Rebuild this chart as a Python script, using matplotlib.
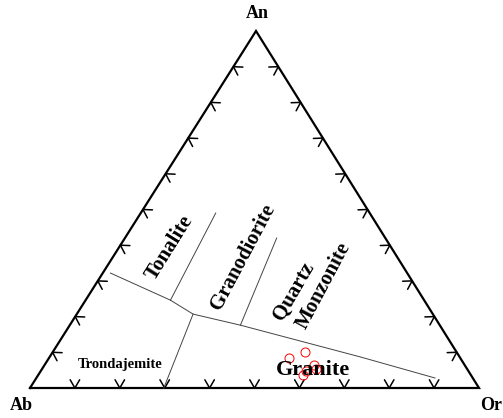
import numpy as np
import matplotlib
matplotlib.use('Agg')
import matplotlib.pyplot as plt


#==================================================
# data, in percent (An, Or); Ab = 100 - An - Or

# main boundary Tonalite/Granodiorite/QM  vs  Trondjemite/Granite
bound_an = [32.2, 24.6, 20.7, 17.6, 8.7, 2.8]
bound_or = [1.7, 18.9, 25.9, 38.0, 69.2, 88.8]

# Trondjemite / Granite divide
trond_an = [20.7, 0.0]
trond_or = [25.9, 29.8]

# Tonalite / Granodiorite divide
ton_an = [24.6, 49.0]
ton_or = [18.9, 16.7]

# Granodiorite / Quartz Monzonite divide
grd_an = [17.6, 42.0]
grd_or = [38.0, 33.8]

# samples
samp_an = [8.4, 10.1, 6.4, 3.6, 4.8, 5.3]
samp_or = [53.5, 56.2, 60.1, 59.0, 59.1, 61.0]

tick_fracs = [0.1, 0.2, 0.3, 0.4, 0.5, 0.6, 0.7, 0.8, 0.9]

#==================================================

# triangle corners in pixels (y down)
AB = np.array([30.0, 388.0])
OR = np.array([479.0, 388.0])
AN = np.array([256.0, 31.0])
CENTRE = (AB + OR + AN) / 3.


def tern(an, orr):

	"""
	Convert An, Or percentages to x, y on the figure.
	"""

	an = np.asarray(an, dtype=float) / 100.
	orr = np.asarray(orr, dtype=float) / 100.
	ab = 1. - an - orr
	x = ab * AB[0] + orr * OR[0] + an * AN[0]
	y = ab * AB[1] + orr * OR[1] + an * AN[1]
	return x, y


def edge_ticks(ax, p0, p1, L=9.5):

	"""
	Arrow-head ticks along an edge, tip on the edge, arms pointing inside.
	"""

	d = (p1 - p0) / np.linalg.norm(p1 - p0)
	n = np.array([-d[1], d[0]])
	mid = (p0 + p1) / 2.
	if np.dot(CENTRE - mid, n) < 0:
		n = -n
	for f in tick_fracs:
		p = p0 + f * (p1 - p0)
		for a in (np.radians(30), np.radians(-30)):
			c, s = np.cos(a), np.sin(a)
			arm = np.array([c * n[0] - s * n[1], s * n[0] + c * n[1]])
			q = p + L * arm
			ax.plot([p[0], q[0]], [p[1], q[1]], color='black', lw=1.1, solid_capstyle='round')


#==================================================

plt.rcParams['font.family'] = ['Liberation Serif', 'DejaVu Serif']

fig = plt.figure(figsize=(5.03, 4.18), dpi=100)
ax = fig.add_axes([0, 0, 1, 1])
ax.set_xlim(0, 503)
ax.set_ylim(418, 0)
ax.axis('off')

# frame
tri = np.array([AB, OR, AN, AB])
ax.plot(tri[:, 0], tri[:, 1], color='black', lw=1.6, solid_joinstyle='miter')

edge_ticks(ax, AB, OR)
edge_ticks(ax, AB, AN)
edge_ticks(ax, OR, AN)

# field boundaries
for a, o in [(bound_an, bound_or), (trond_an, trond_or), (ton_an, ton_or), (grd_an, grd_or)]:
	x, y = tern(a, o)
	ax.plot(x, y, color='#444444', lw=0.7)

# samples
x, y = tern(samp_an, samp_or)
ax.plot(x, y, 'o', mfc='none', mec='red', ms=6.5, mew=0.7)

# corner names
ax.text(257, 13, 'An', ha='center', va='center', fontsize=13, fontweight='bold')
ax.text(21, 405, 'Ab', ha='center', va='center', fontsize=13, fontweight='bold')
ax.text(491, 405, 'Or', ha='center', va='center', fontsize=13, fontweight='bold')

# field names
ax.text(170, 248, 'Tonalite', rotation=58, ha='center', va='center', fontsize=15, fontweight='bold')
ax.text(243, 257, 'Granodiorite', rotation=62, ha='center', va='center', fontsize=15, fontweight='bold')
ax.text(294, 291, 'Quartz', rotation=60, ha='center', va='center', fontsize=15, fontweight='bold')
ax.text(324, 286, 'Monzonite', rotation=62, ha='center', va='center', fontsize=15, fontweight='bold')
ax.text(313, 375, 'Granite', ha='center', va='baseline', fontsize=16, fontweight='bold')
ax.text(120, 368, 'Trondajemite', ha='center', va='baseline', fontsize=10.5, fontweight='bold')

plt.savefig('out.png', dpi=100)
